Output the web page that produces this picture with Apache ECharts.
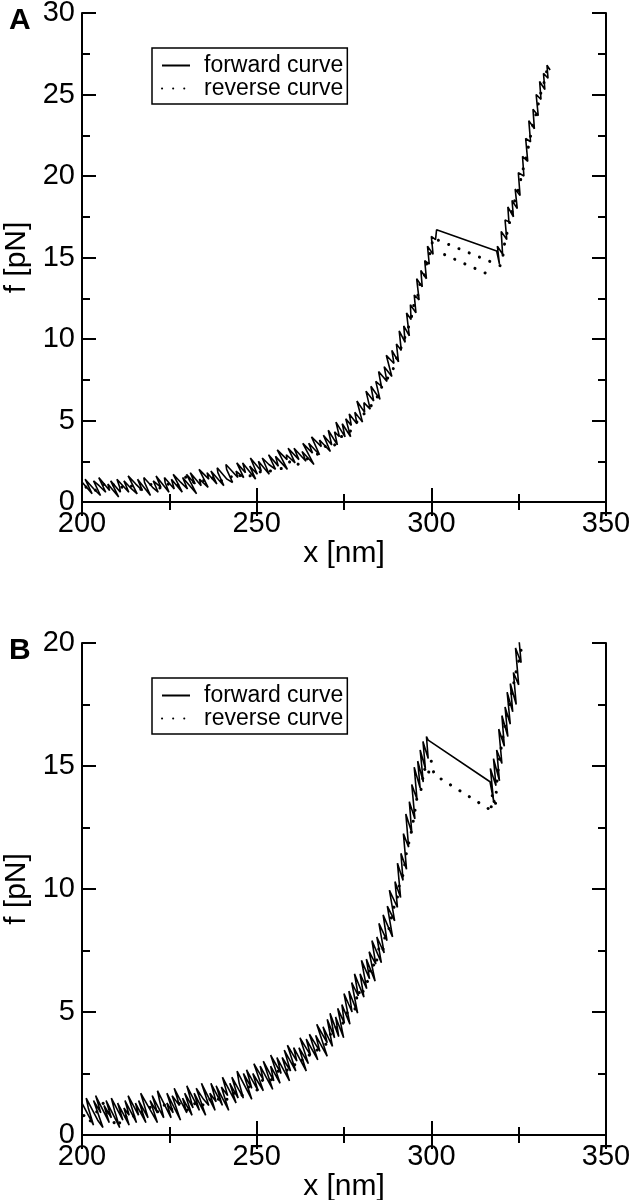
<!DOCTYPE html>
<html>
<head>
<meta charset="utf-8">
<script src="https://cdn.jsdelivr.net/npm/echarts@6/dist/echarts.min.js"></script>
<style>html,body{margin:0;padding:0;background:#fff}#c{width:634px;height:1200px}</style>
</head>
<body>
<div id="c"></div>
<script>
// ---- data ----
const panelLabels = ['A', 'B'];
const seriesNames = ['forward curve', 'reverse curve'];
const xName = 'x [nm]';
const yName = 'f [pN]';
const xRange = [200, 350, 50];
const yRangeA = [0, 30, 5];
const yRangeB = [0, 20, 5];

// Panel A, forward curve [x, f]
const fwdA = [
[200.1,1.2],[202.9,0.5],[200.9,1.4],[203.4,0.8],[205.3,0.4],[203.3,1.3],[204.9,1.0],[206.8,0.6],[204.8,1.5],[207.9,0.7],
[207.4,1.1],[210.5,0.3],[208.2,1.3],[211.0,0.6],[210.8,0.9],[210.0,1.4],[213.4,0.6],[212.0,1.3],[214.2,0.8],[215.8,0.5],
[213.2,1.6],[215.4,1.1],[217.3,0.7],[215.9,1.4],[219.6,0.4],[217.9,1.2],[217.7,1.5],[220.2,0.9],[221.8,0.6],[220.4,1.3],
[222.6,0.9],[221.2,1.6],[224.9,0.6],[223.8,1.2],[223.6,1.5],[226.4,0.8],[225.6,1.4],[228.7,0.6],[226.1,1.7],[228.3,1.2],
[230.2,0.8],[228.8,1.5],[232.8,0.5],[229.9,1.7],[232.4,1.1],[231.0,1.8],[234.1,1.0],[233.6,1.4],[236.1,0.9],[233.5,2.0],
[236.3,1.4],[235.8,1.8],[238.6,1.1],[236.9,1.9],[240.6,1.0],[238.9,1.8],[238.7,2.1],[241.5,1.4],[243.1,1.2],[241.4,2.0],
[241.2,2.3],[244.6,1.5],[244.1,1.9],[246.3,1.5],[244.3,2.4],[246.8,1.8],[246.0,2.4],[249.7,1.4],[248.0,2.2],[250.2,1.7],
[248.2,2.7],[251.3,1.9],[250.5,2.5],[253.6,1.7],[251.6,2.7],[253.5,2.3],[255.4,2.0],[253.4,2.9],[256.2,2.2],[255.4,2.8],
[258.8,2.0],[255.9,3.2],[258.7,2.6],[258.5,2.9],[261.0,2.4],[259.0,3.3],[262.1,2.6],[260.7,3.3],[264.1,2.5],[263.0,3.1],
[266.4,2.3],[263.2,3.6],[266.0,3.0],[264.9,3.6],[268.0,2.9],[265.7,4.0],[268.5,3.4],[268.0,3.8],[271.1,3.1],[269.1,4.1],
[271.5,3.5],[270.5,4.4],[273.1,3.5],[272.3,4.3],[273.7,4.0],[272.7,4.9],[275.3,4.0],[274.5,4.8],[276.9,4.0],[275.5,5.1],
[277.1,4.7],[276.5,5.4],[278.7,4.8],[278.1,5.5],[280.3,4.9],[278.7,6.2],[280.9,5.5],[280.7,6.1],[282.5,5.7],[281.3,6.8],
[283.5,6.2],[282.7,7.1],[285.3,6.3],[284.1,7.4],[285.7,7.1],[284.9,8.0],[287.3,7.4],[286.5,8.3],[288.7,7.7],[287.1,9.0],
[289.3,8.5],[288.7,9.3],[290.6,8.6],[290.0,9.7],[291.4,9.3],[290.8,10.5],[292.5,9.8],[292.1,10.8],[293.7,10.2],[292.9,11.6],
[294.2,11.2],[294.0,12.1],[295.6,11.6],[295.1,12.7],[296.5,12.4],[295.8,13.7],[297.4,13.2],[297.0,14.2],[298.6,13.7],[298.1,14.8],
[299.4,14.6],[298.9,15.7],[300.5,15.2],[300.0,16.3],[301.2,16.1],[301.5,16.7],[318.7,15.4],[319.5,14.6],[318.9,15.7],[320.4,15.2],
[320.0,16.6],[321.6,16.1],[321.1,17.3],[322.2,17.2],[321.9,18.1],[323.5,17.5],[323.1,18.5],[324.6,18.0],[324.0,19.2],[325.4,18.8],
[324.9,20.2],[326.5,20.0],[326.1,21.2],[327.6,20.9],[327.0,22.3],[328.4,22.1],[327.9,23.4],[329.5,22.9],[329.1,24.1],[330.6,23.7],
[330.0,25.0],[331.4,24.7],[331.0,25.8],[332.5,25.3],[332.1,26.3],[333.4,26.0],[333.1,26.8],[334.0,26.5]
];

// Panel A, reverse curve [x, f] (recorded from large to small x)
const revA = [
[333.0,26.4],[332.0,25.5],[331.2,25.0],[330.0,23.8],[329.0,23.1],[328.0,22.0],[327.0,21.0],[326.0,20.2],[325.0,19.2],[324.0,18.6],
[323.0,17.7],[322.0,16.8],[321.0,15.9],[320.5,15.1],[319.7,14.5],[300.4,16.2],[300.0,15.4],[299.0,15.0],[298.0,13.9],[297.0,13.7],
[296.0,12.5],[295.0,12.1],[294.0,11.0],[293.0,10.5],[292.0,9.8],[291.0,9.3],[290.0,8.8],[289.0,8.1],[288.0,7.8],[287.0,7.4],
[286.0,7.2],[285.0,6.5],[284.0,6.4],[283.0,6.0],[282.0,5.6],[280.0,5.3],[278.0,4.7],[276.0,4.1],[274.0,4.0],[272.0,3.4],
[270.0,3.5],[268.0,3.0],[266.0,2.8],[264.0,2.6],[262.0,2.3],[260.0,2.6],[258.0,2.1],[256.0,2.0],[254.0,1.9],[252.0,2.0],
[250.0,1.7],[248.0,1.6],[246.0,1.5],[244.0,1.8],[242.0,1.4],[240.0,1.3],[238.0,1.6],[236.0,1.2],[234.0,1.4],[232.0,1.2],
[230.0,1.6],[228.0,1.1],[226.0,0.9],[224.0,1.2],[222.0,0.8],[220.0,1.1],[218.0,0.9],[216.0,0.7],[214.0,1.0],[212.0,0.8],
[210.0,1.2],[208.0,0.9],[206.0,1.1],[204.0,0.7],[202.0,1.0],[200.0,0.8]
];
const revA2 = [[315.4,14.05],[302.5,15.3]];

// Panel B, forward curve [x, f]
const fwdB = [
[200.0,1.3],[203.3,0.4],[201.8,1.1],[201.2,1.5],[204.5,0.6],[206.0,0.3],[203.3,1.4],[205.4,0.9],[203.9,1.6],[207.8,0.5],
[206.3,1.2],[208.4,0.7],[206.9,1.4],[210.8,0.3],[209.3,1.0],[208.4,1.5],[211.7,0.6],[210.2,1.3],[213.5,0.4],[212.0,1.1],
[213.5,0.8],[212.3,1.4],[215.6,0.5],[213.2,1.6],[216.2,0.8],[215.3,1.3],[218.3,0.5],[216.2,1.4],[218.9,0.7],[216.8,1.7],
[219.2,1.1],[221.6,0.5],[219.5,1.4],[221.6,0.9],[220.1,1.6],[223.4,0.7],[222.2,1.4],[221.6,1.8],[225.5,0.7],[224.3,1.3],
[226.1,0.9],[224.3,1.7],[228.2,0.6],[225.8,1.6],[227.9,1.2],[226.4,1.9],[230.0,0.9],[228.8,1.5],[231.5,0.8],[229.4,1.7],
[231.8,1.1],[230.0,2.0],[233.6,1.0],[232.1,1.7],[235.4,0.8],[232.7,1.9],[234.8,1.45],[236.3,1.2],[234.2,2.1],[238.1,1.0],
[236.6,1.7],[238.4,1.35],[236.9,2.1],[240.2,1.2],[238.4,2.0],[242.0,1.0],[239.9,1.95],[241.7,1.6],[240.2,2.35],[244.1,1.3],
[242.3,2.1],[244.7,1.5],[242.9,2.35],[246.2,1.5],[245.0,2.1],[244.4,2.6],[248.6,1.45],[246.2,2.5],[248.6,1.9],[247.1,2.65],
[250.4,1.8],[248.9,2.5],[251.9,1.8],[249.2,2.9],[251.9,2.25],[251.0,2.8],[254.6,1.85],[251.9,3.0],[254.9,2.2],[254.0,2.8],
[256.7,2.1],[254.0,3.25],[257.0,2.5],[255.8,3.15],[259.4,2.2],[257.3,3.15],[259.7,2.6],[257.9,3.45],[261.2,2.6],[258.8,3.65],
[261.5,3.0],[260.6,3.55],[264.2,2.6],[262.1,3.55],[264.8,2.9],[262.4,3.95],[265.4,3.25],[264.2,3.9],[267.5,3.05],[265.1,4.1],
[268.1,3.4],[266.9,4.05],[270.2,3.2],[267.2,4.5],[270.2,3.75],[269.0,4.4],[271.7,3.6],[270.2,4.7],[272.3,3.95],[271.0,4.95],
[273.5,4.0],[272.6,4.8],[274.9,3.95],[273.2,5.15],[275.1,4.55],[274.4,5.3],[276.7,4.5],[275.0,5.75],[277.3,5.0],[276.4,5.85],
[278.9,4.95],[277.2,6.2],[279.1,5.65],[278.0,6.55],[280.7,5.6],[279.6,6.55],[281.5,5.95],[280.0,7.1],[282.3,6.35],[281.4,7.15],
[283.9,6.25],[282.2,7.45],[284.1,6.95],[283.0,7.9],[285.7,7.0],[284.4,8.05],[286.5,7.4],[285.0,8.6],[287.3,7.9],[286.2,8.95],
[288.9,8.05],[287.4,9.3],[289.5,8.7],[288.0,9.95],[290.3,9.25],[289.6,10.3],[291.2,9.65],[290.3,11.05],[291.9,10.35],[291.3,11.45],
[292.9,10.8],[292.0,12.25],[293.5,11.7],[292.7,13.05],[294.4,12.3],[293.7,13.55],[295.3,12.85],[294.4,14.25],[295.9,13.65],[295.1,14.95],
[296.8,14.1],[296.1,15.2],[297.7,14.35],[296.8,15.65],[298.3,14.9],[297.6,16.0],[299.1,15.3],[298.6,16.2],[299.1,16.05],[316.8,14.36],
[317.8,13.6],[316.9,14.9],[318.5,14.2],[317.8,15.3],[319.5,14.4],[318.7,15.65],[320.2,15.1],[319.3,16.5],[320.9,15.8],[320.2,17.05],
[321.9,16.2],[321.1,17.4],[322.6,16.7],[321.7,18.0],[323.3,17.2],[322.6,18.35],[324.3,17.5],[323.5,18.8],[325.0,18.3],[324.1,19.8],
[325.7,19.2],[325.0,20.3],[326.4,20.1],[326.6,21.0]
];

// Panel B, reverse curve [x, f]
const revB = [
[326.5,20.6],[325.5,19.5],[324.5,19.0],[323.5,18.3],[322.5,17.6],[321.5,17.0],[320.5,16.2],[319.5,15.3],[318.8,14.4],[318.3,13.3],
[317.5,13.9],[317.0,13.1],[316.5,13.25],[300.8,14.65],[300.0,15.2],[299.0,14.6],[298.0,14.9],[297.0,14.0],[296.0,13.8],[295.0,12.9],
[294.0,12.1],[293.0,11.6],[292.0,10.6],[291.0,10.3],[290.0,9.4],[289.0,9.2],[288.0,8.4],[287.0,8.3],[286.0,7.4],[285.0,7.6],
[284.0,6.8],[283.0,7.0],[282.0,6.3],[281.0,6.1],[280.0,5.6],[279.0,5.9],[278.0,5.0],[276.0,5.0],[274.0,4.3],[272.0,4.4],
[270.0,3.7],[268.0,3.6],[266.0,3.2],[264.0,3.3],[262.0,2.8],[260.0,2.9],[258.0,2.5],[256.0,2.6],[254.0,2.2],[252.0,2.3],
[250.0,1.8],[248.0,2.0],[246.0,1.6],[244.0,1.8],[242.0,1.4],[240.0,1.6],[238.0,1.3],[236.0,1.5],[234.0,1.1],[232.0,1.3],
[230.0,1.0],[228.0,1.3],[226.0,1.0],[224.0,1.3],[222.0,0.9],[220.0,1.2],[218.0,0.9],[216.0,1.0],[214.0,0.6],[212.0,0.8],
[210.0,0.3],[208.0,0.8],[206.0,1.3],[204.0,0.9],[202.0,0.5],[200.0,0.9]
];

// ---- chart ----
const FONT = 'Liberation Sans';
const grids = [
  {left: 82, top: 13, width: 524, height: 489, containLabel: false, outerBoundsMode: 'none'},
  {left: 82, top: 643, width: 524, height: 492, containLabel: false, outerBoundsMode: 'none'}
];
const axLine = {show: true, lineStyle: {color: '#000', width: 2}};
const tick = {show: true, inside: true, length: 14, lineStyle: {color: '#000', width: 2}};
const minor = {show: true, splitNumber: 2, length: 8, lineStyle: {color: '#000', width: 2}};

function xAxes(gi) {
  const base = {type: 'value', gridIndex: gi, min: xRange[0], max: xRange[1], interval: xRange[2],
    axisLine: axLine, axisTick: tick, minorTick: minor, splitLine: {show: false}, minorSplitLine: {show: false}};
  return [
    Object.assign({}, base, {position: 'bottom',
      axisLabel: {fontSize: 29, color: '#000', fontFamily: FONT, margin: 7},
      name: xName, nameLocation: 'middle', nameGap: 37,
      nameTextStyle: {fontSize: 30, color: '#000', fontFamily: FONT}}),
    Object.assign({}, base, {position: 'top', axisLabel: {show: false}})
  ];
}
function yAxes(gi, r) {
  const base = {type: 'value', gridIndex: gi, min: r[0], max: r[1], interval: r[2],
    axisLine: axLine, axisTick: tick, minorTick: minor, splitLine: {show: false}, minorSplitLine: {show: false}};
  return [
    Object.assign({}, base, {position: 'left',
      axisLabel: {fontSize: 29, color: '#000', fontFamily: FONT, margin: 7},
      name: yName, nameLocation: 'middle', nameGap: 46,
      nameTextStyle: {fontSize: 30, color: '#000', fontFamily: FONT}}),
    Object.assign({}, base, {position: 'right', axisLabel: {show: false}})
  ];
}

const solid = {color: '#000', width: 1.6, type: 'solid'};
const dotted = {color: '#000', width: 3, type: [0.1, 11], cap: 'round'};
function line(name, data, xi, yi, style, z) {
  return {name: name, type: 'line', data: data, xAxisIndex: xi, yAxisIndex: yi,
    symbol: 'none', showSymbol: false, lineStyle: style, itemStyle: {color: '#000'},
    animation: false, silent: true, clip: true, z: z, emphasis: {disabled: true}};
}

function legend(top) {
  return {left: 152, top: top, orient: 'vertical', data: seriesNames,
    borderColor: '#000', borderWidth: 1.5, padding: [6, 4, 4, 9], itemGap: 0,
    itemWidth: 28, itemHeight: 14, selectedMode: false, backgroundColor: '#fff',
    itemStyle: {opacity: 0},
    textStyle: {fontSize: 23, color: '#000', fontFamily: FONT, lineHeight: 19, padding: [0, 0, 0, 9]}};
}

const option = {
  animation: false,
  backgroundColor: '#fff',
  title: [
    {text: panelLabels[0], left: 4, top: 1, textStyle: {fontSize: 30, fontWeight: 'bold', color: '#000', fontFamily: FONT}},
    {text: panelLabels[1], left: 4, top: 631, textStyle: {fontSize: 30, fontWeight: 'bold', color: '#000', fontFamily: FONT}}
  ],
  legend: [legend(48), legend(678)],
  grid: grids,
  xAxis: [].concat(xAxes(0), xAxes(1)),
  yAxis: [].concat(yAxes(0, yRangeA), yAxes(1, yRangeB)),
  series: [
    line(seriesNames[1], revA, 0, 0, dotted, 2),
    line(seriesNames[1], revA2, 0, 0, dotted, 2),
    line(seriesNames[0], fwdA, 0, 0, solid, 3),
    line(seriesNames[1], revB, 2, 2, dotted, 2),
    line(seriesNames[0], fwdB, 2, 2, solid, 3)
  ]
};
const chart = echarts.init(document.getElementById('c'), null, {renderer: 'canvas', devicePixelRatio: 1});
chart.setOption(option);
</script>
</body>
</html>
